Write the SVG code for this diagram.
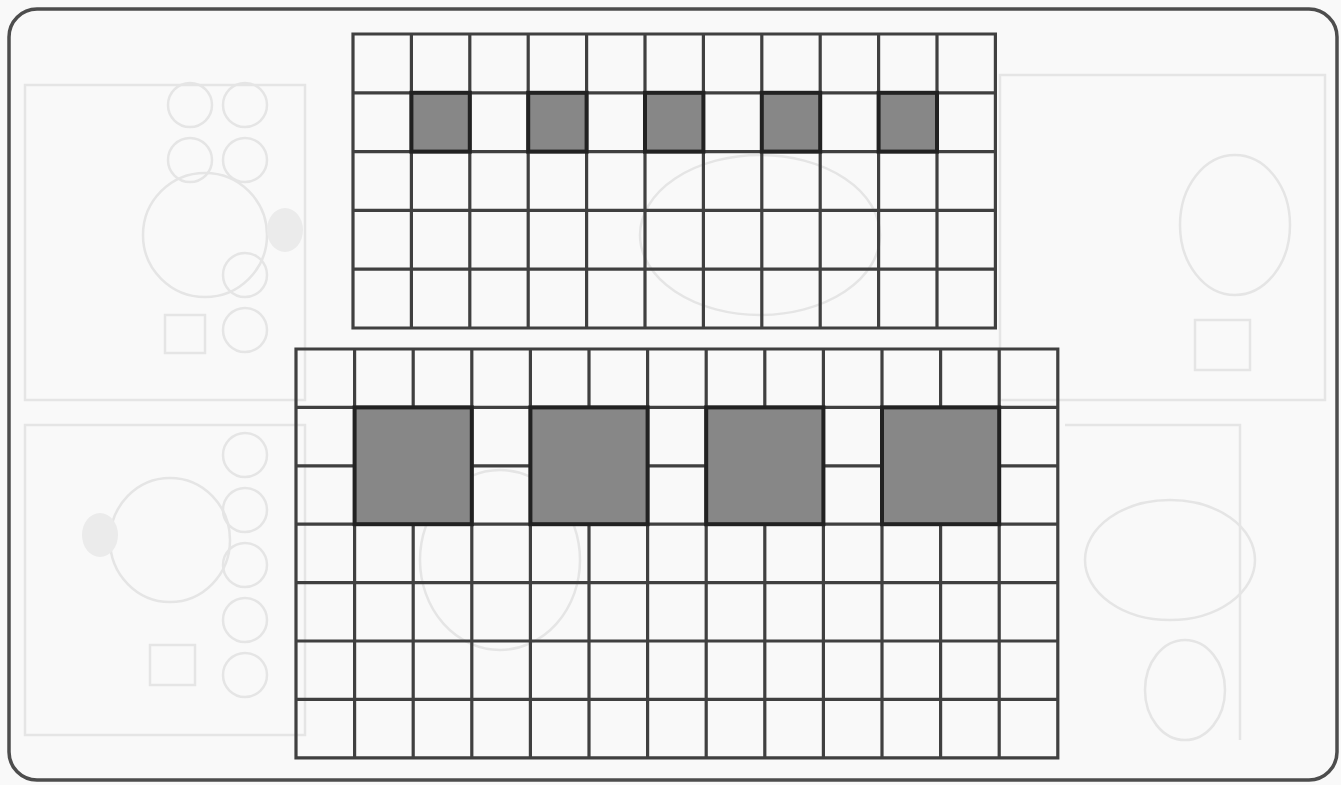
<svg xmlns="http://www.w3.org/2000/svg" width="1341" height="785" viewBox="0 0 1341 785">
  <style>
    .grid { fill: none; stroke: #404040; stroke-width: 3.2; stroke-linecap: square; }
    .dark { fill: #878787; stroke: #222222; stroke-width: 4; }
    .frame { fill: none; stroke: #4d4d4d; stroke-width: 3.5; }
    .faint { fill: none; stroke: #e5e5e5; stroke-width: 2.5; }
    .faintfill { fill: #ebebeb; stroke: none; }
  </style>
  <rect x="0" y="0" width="1341" height="785" fill="#f9f9f9"/>

  <g id="background-art">
    <path class="faint" d="M25 85 H305 V400 H25 Z M25 425 H305 V735 H25 Z M1000 75 H1325 V400 H1000 Z M1065 425 H1240 V740"/>
    <circle class="faint" cx="190" cy="105" r="22"/><circle class="faint" cx="245" cy="105" r="22"/>
    <circle class="faint" cx="190" cy="160" r="22"/><circle class="faint" cx="245" cy="160" r="22"/>
    <ellipse class="faint" cx="205" cy="235" rx="62" ry="62"/>
    <circle class="faint" cx="245" cy="275" r="22"/><circle class="faint" cx="245" cy="330" r="22"/>
    <rect class="faint" x="165" y="315" width="40" height="38"/>
    <ellipse class="faintfill" cx="285" cy="230" rx="18" ry="22"/>
    <circle class="faint" cx="245" cy="455" r="22"/><circle class="faint" cx="245" cy="510" r="22"/>
    <ellipse class="faint" cx="170" cy="540" rx="60" ry="62"/>
    <ellipse class="faintfill" cx="100" cy="535" rx="18" ry="22"/>
    <circle class="faint" cx="245" cy="565" r="22"/><circle class="faint" cx="245" cy="620" r="22"/>
    <circle class="faint" cx="245" cy="675" r="22"/>
    <rect class="faint" x="150" y="645" width="45" height="40"/>
    <ellipse class="faint" cx="1235" cy="225" rx="55" ry="70"/>
    <ellipse class="faint" cx="1170" cy="560" rx="85" ry="60"/>
    <rect class="faint" x="1195" y="320" width="55" height="50"/>
    <ellipse class="faint" cx="1185" cy="690" rx="40" ry="50"/>
    <ellipse class="faint" cx="760" cy="235" rx="120" ry="80"/>
    <ellipse class="faint" cx="500" cy="560" rx="80" ry="90"/>
  </g>

  <g id="top-grid">
    <path class="grid" d="M353 34 V328 M411.4 34 V328 M469.8 34 V328 M528.2 34 V328 M586.6 34 V328 M645 34 V328 M703.4 34 V328 M761.8 34 V328 M820.2 34 V328 M878.6 34 V328 M937 34 V328 M995.4 34 V328
      M353 34 H995.4 M353 92.8 H995.4 M353 151.6 H995.4 M353 210.4 H995.4 M353 269.2 H995.4 M353 328 H995.4"/>
    <rect class="dark" x="411.4" y="92.8" width="58.4" height="58.8"/>
    <rect class="dark" x="528.2" y="92.8" width="58.4" height="58.8"/>
    <rect class="dark" x="645" y="92.8" width="58.4" height="58.8"/>
    <rect class="dark" x="761.8" y="92.8" width="58.4" height="58.8"/>
    <rect class="dark" x="878.6" y="92.8" width="58.4" height="58.8"/>
  </g>

  <g id="bottom-grid">
    <path class="grid" d="M296 349 V757.8 M354.6 349 V757.8 M413.2 349 V757.8 M471.8 349 V757.8 M530.4 349 V757.8 M589 349 V757.8 M647.6 349 V757.8 M706.2 349 V757.8 M764.8 349 V757.8 M823.4 349 V757.8 M882 349 V757.8 M940.6 349 V757.8 M999.2 349 V757.8 M1057.8 349 V757.8
      M296 349 H1057.8 M296 407.4 H1057.8 M296 465.8 H1057.8 M296 524.2 H1057.8 M296 582.6 H1057.8 M296 641 H1057.8 M296 699.4 H1057.8 M296 757.8 H1057.8"/>
    <rect class="dark" x="354.6" y="407.4" width="117.2" height="116.8"/>
    <rect class="dark" x="530.4" y="407.4" width="117.2" height="116.8"/>
    <rect class="dark" x="706.2" y="407.4" width="117.2" height="116.8"/>
    <rect class="dark" x="882" y="407.4" width="117.2" height="116.8"/>
  </g>

  <g id="frame">
    <rect class="frame" x="9" y="9" width="1328" height="771" rx="28" ry="28"/>
  </g>
</svg>
